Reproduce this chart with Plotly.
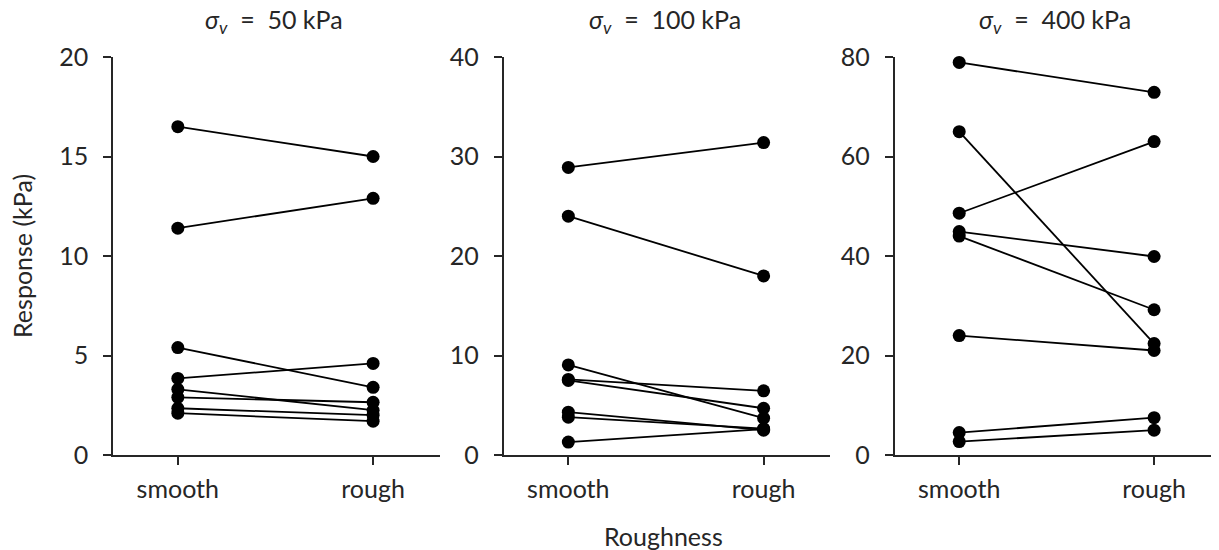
import plotly.graph_objects as go

categories = ["smooth", "rough"]
panel_titles = ["<i>σ<sub>v</sub></i>  =  50 kPa", "<i>σ<sub>v</sub></i>  =  100 kPa", "<i>σ<sub>v</sub></i>  =  400 kPa"]

smooth_50 = [16.5, 11.4, 5.4, 3.85, 3.3, 2.9, 2.35, 2.1]
rough_50 = [15.0, 12.9, 3.4, 4.6, 2.25, 2.65, 2.0, 1.7]

smooth_100 = [28.9, 24.0, 9.05, 7.6, 7.5, 4.3, 3.8, 1.3]
rough_100 = [31.4, 18.0, 3.7, 6.45, 4.7, 2.5, 2.65, 2.6]

smooth_400 = [78.9, 65.0, 48.6, 44.9, 44.0, 24.0, 4.5, 2.7]
rough_400 = [72.9, 22.4, 63.0, 39.9, 29.2, 21.0, 7.5, 5.0]

y_ticks = [[0, 5, 10, 15, 20], [0, 10, 20, 30, 40], [0, 20, 40, 60, 80]]
y_ranges = [[0, 20], [0, 40], [0, 80]]

panels = [(smooth_50, rough_50), (smooth_100, rough_100), (smooth_400, rough_400)]

FONT = "Lato"
FS = 25
TXT = "#262626"
# page body has an 8px margin, so work in figure coordinates
W, H = 1211, 542
L, T, B = 105, 49, 95
PW = W - L
PH = H - T - B
px = [(105, 431.5), (495.5, 822), (886.5, 1211)]
x_ranges = [[-0.332, 1.34], [-0.332, 1.34], [-0.332, 1.333]]

fig = go.Figure()
for i, (sm, rg) in enumerate(panels):
    xa = "x" if i == 0 else f"x{i+1}"
    ya = "y" if i == 0 else f"y{i+1}"
    for s, r in zip(sm, rg):
        fig.add_trace(go.Scatter(
            x=categories, y=[s, r], mode="lines+markers",
            line=dict(color="black", width=1.8),
            marker=dict(color="black", size=13),
            showlegend=False, xaxis=xa, yaxis=ya, cliponaxis=False,
        ))

layout = dict(
    width=W, height=H,
    margin=dict(l=L, r=0, t=T, b=B, autoexpand=False),
    plot_bgcolor="white", paper_bgcolor="white",
    font=dict(family=FONT, size=FS, color=TXT),
    showlegend=False,
)
for i in range(3):
    sx = "xaxis" if i == 0 else f"xaxis{i+1}"
    sy = "yaxis" if i == 0 else f"yaxis{i+1}"
    d0 = (px[i][0] - L) / PW
    d1 = min(1.0, (px[i][1] - L) / PW)
    layout[sx] = dict(
        domain=[d0, d1], type="category", categoryorder="array", categoryarray=categories,
        range=x_ranges[i], showline=True, linecolor=TXT, linewidth=1.5,
        ticks="outside", ticklen=8, tickwidth=1.5, tickcolor=TXT,
        showgrid=False, zeroline=False, anchor="y" if i == 0 else f"y{i+1}",
        ticklabelstandoff=3, tickfont=dict(size=FS, color=TXT), automargin=False,
    )
    layout[sy] = dict(
        range=y_ranges[i], tickvals=y_ticks[i], showline=True, linecolor=TXT, linewidth=1.5,
        ticks="outside", ticklen=8, tickwidth=1.5, tickcolor=TXT,
        showgrid=False, zeroline=False, anchor="x" if i == 0 else f"x{i+1}",
        ticklabelstandoff=10, tickfont=dict(size=FS, color=TXT), automargin=False,
    )
fig.update_layout(**layout)


def to_paper(fx, fy):
    return (fx - L) / PW, 1 - (fy - T) / PH


annotations = []
for i in range(3):
    cx = (px[i][0] + px[i][1]) / 2 - 2
    x, y = to_paper(cx, 13)
    annotations.append(dict(text=panel_titles[i], x=x, y=y, xref="paper", yref="paper",
                            xanchor="center", yanchor="middle", showarrow=False,
                            font=dict(size=FS, color=TXT, family=FONT)))
x, y = to_paper(14, 248)
annotations.append(dict(text="Response (kPa)", x=x, y=y, xref="paper", yref="paper",
                        xanchor="center", yanchor="middle", textangle=-90, showarrow=False,
                        font=dict(size=FS, color=TXT, family=FONT)))
x, y = to_paper(655, 528)
annotations.append(dict(text="Roughness", x=x, y=y, xref="paper", yref="paper",
                        xanchor="center", yanchor="middle", showarrow=False,
                        font=dict(size=FS, color=TXT, family=FONT)))
fig.update_layout(annotations=annotations)

fig.write_html("out.html")
